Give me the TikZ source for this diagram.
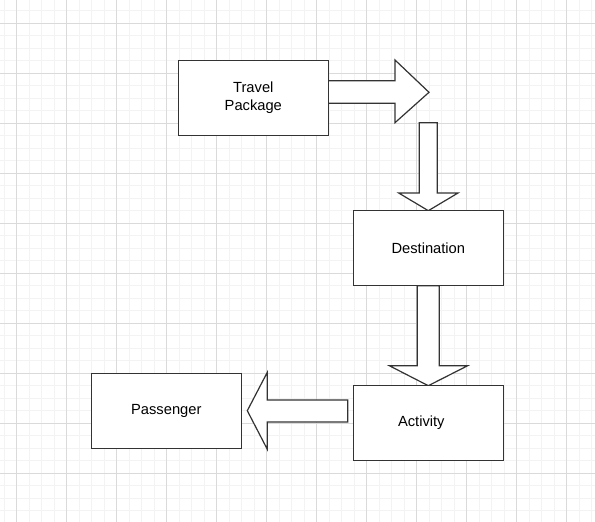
\documentclass[tikz,border=0pt]{standalone}
\usepackage{fontspec}
\setmainfont{Liberation Sans}
\usetikzlibrary{backgrounds}

\definecolor{gridmajor}{RGB}{218,218,218}
\definecolor{gridminor}{RGB}{243,243,243}
\definecolor{edge}{RGB}{51,51,51}

\tikzstyle{box}=[draw=edge,fill=white,line width=1.2pt,minimum width=150pt,minimum height=75pt,inner sep=0pt,align=center,font=\fontsize{14.7}{18}\selectfont]
\tikzstyle{blockarrow}=[draw=edge,fill=white,line width=1.2pt,line join=miter]

\begin{document}
\begin{tikzpicture}[x=1pt,y=-1pt]
\useasboundingbox (0,0) rectangle (595,522);

\begin{scope}[on background layer]
\fill[white] (0,0) rectangle (595,522);
\foreach \x in {4.17,16.67,...,595} \draw[gridminor,line width=0.8pt] (\x,0) -- (\x,522);
\foreach \y in {10.83,23.33,...,522} \draw[gridminor,line width=0.8pt] (0,\y) -- (595,\y);
\foreach \x in {16.67,66.67,...,595} \draw[gridmajor,line width=0.8pt] (\x,0) -- (\x,522);
\foreach \y in {23.33,73.33,...,522} \draw[gridmajor,line width=0.8pt] (0,\y) -- (595,\y);
\end{scope}

\node[box] (travel) at (253.3,98) {Travel\\Package};
\node[box] (dest) at (428.3,248.2) {Destination};
\node[box] (act) at (428.3,423) {Activity\hspace*{14pt}};
\node[box] (pass) at (166.3,410.8) {Passenger};

\begin{scope}[on background layer]
% travel -> right
\draw[blockarrow] (328.3,80.7) -- (395,80.7) -- (395,60) -- (429,92.3) -- (395,122.7) -- (395,103.3) -- (328.3,103.3) -- cycle;
% down -> destination
\draw[blockarrow] (419.3,122.7) -- (437.3,122.7) -- (437.3,193) -- (458,193) -- (428.3,210.7) -- (398.7,193) -- (419.3,193) -- cycle;
% destination -> activity
\draw[blockarrow] (417.3,285.7) -- (439.3,285.7) -- (439.3,365.7) -- (467.7,365.7) -- (428.3,385.7) -- (389.3,365.7) -- (417.3,365.7) -- cycle;
% activity -> passenger
\draw[blockarrow] (347.7,400) -- (267.3,400) -- (267.3,372.3) -- (247.3,410.7) -- (267.3,449.3) -- (267.3,422) -- (347.7,422) -- cycle;
\end{scope}

\end{tikzpicture}
\end{document}
